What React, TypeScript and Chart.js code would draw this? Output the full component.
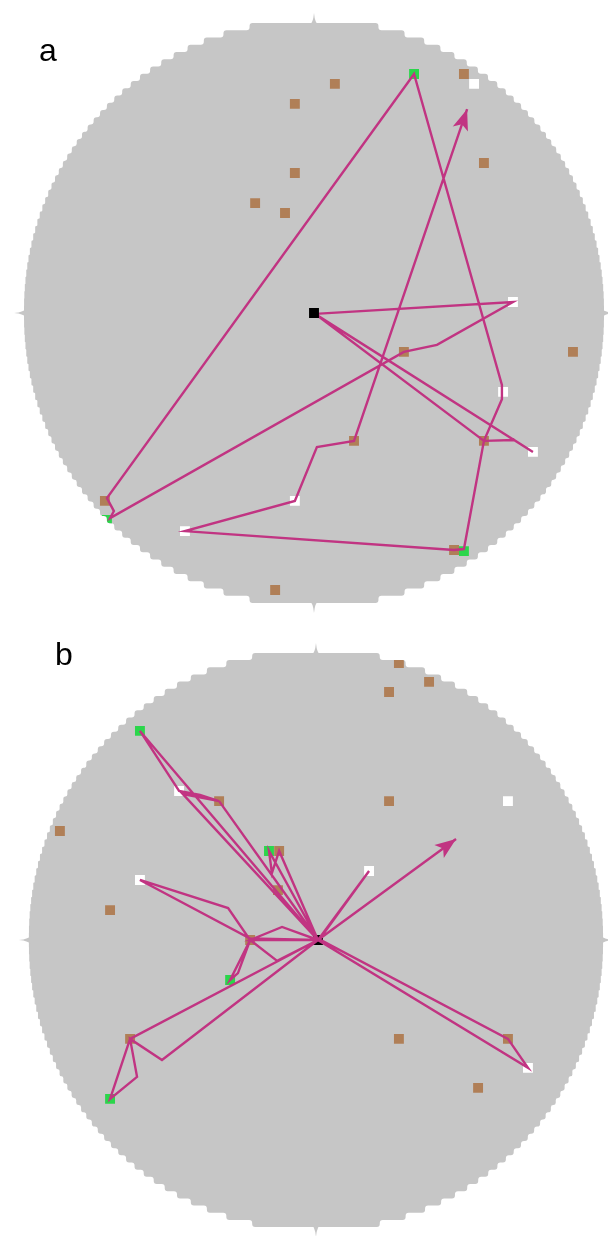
import React, { useEffect, useRef } from "react";
import { Chart, registerables } from "chart.js";

Chart.register(...registerables);

type Pt = [number, number];

// Arena geometry in arena units: [centreX, centreY, radius]
const aArena: number[] = [0, 0, 100];
const bArena: number[] = [-0.7, 0, 99];

// ---------- Panel a ----------
const aBrown: Pt[] = [
  [-6.6, 72.1], [7.2, 79.0], [-6.6, 48.3], [-20.3, 37.9], [-10.0, 34.5],
  [51.7, 82.4], [58.6, 51.7], [31.0, -13.4], [89.3, -13.4], [13.8, -44.1],
  [58.6, -44.1], [48.3, -81.7], [-72.1, -64.8], [-13.4, -95.5],
];
const aWhite: Pt[] = [
  [55.2, 79.0], [68.6, 3.8], [65.2, -27.2], [75.5, -47.9], [-6.6, -64.8], [-44.5, -75.2],
];
const aGreen: Pt[] = [[34.5, 82.4], [51.7, -82.1], [-71.4, -71.4]];
const aStart: Pt[] = [[0, 0]];
const aPath: Pt[] = [
  [0, 0], [58.6, -44.1], [69.0, -43.8], [75.5, -47.9], [0.3, -0.3],
  [68.6, 3.8], [42.4, -11.0], [31.0, -13.4], [-70.3, -70.7], [-69.0, -68.3],
  [-71.4, -63.8], [34.5, 82.4], [64.8, -24.8], [64.8, -29.7], [58.6, -44.1],
  [51.7, -81.4], [48.3, -81.7], [-44.5, -75.2], [-6.6, -64.8], [1.0, -46.2],
  [13.8, -44.1], [52.8, 70.3],
];

// ---------- Panel b ----------
const bBrown: Pt[] = [
  [27.9, 95.5], [38.3, 89.0], [24.5, 85.5], [24.5, 47.9], [-34.1, 47.9],
  [-13.4, 30.7], [-89.0, 37.6], [-71.7, 10.3], [-13.8, 17.2], [-23.4, 0],
  [-64.8, -34.1], [27.9, -34.1], [65.5, -34.1], [55.2, -51.0],
];
const bWhite: Pt[] = [[65.5, 47.9], [-47.9, 51.4], [17.6, 23.8], [-61.4, 20.7], [72.4, -44.1]];
const bGreen: Pt[] = [[-61.4, 72.1], [-16.9, 30.7], [-30.3, -13.8], [-71.7, -54.8]];
const bStart: Pt[] = [[0, 0]];
const bPath: Pt[] = [
  [0, 0], [17.6, 23.8], [0.5, 0.2], [65.5, -34.1], [72.4, -44.1], [0, 0],
  [-61.4, 72.1], [-47.9, 51.4], [-40.7, 50.0], [-34.1, 47.9], [-46.6, 50.3],
  [0.2, -0.2], [-34.1, 47.9], [0, 0], [-16.9, 30.7], [-15.9, 23.1], [-13.4, 30.7],
  [0, 0], [-23.4, 0], [-12.4, 4.5], [0, 0], [-23.4, 0.5], [-61.4, 20.7],
  [-31.0, 11.0], [-23.4, 0], [-30.3, -13.8], [-27.6, -11.4], [-23.4, 0],
  [-14.1, -7.2], [0, 0], [-64.8, -34.1], [-71.7, -54.8], [-62.4, -47.2],
  [-64.8, -34.1], [-53.8, -41.4], [0, 0], [47.6, 34.8],
];

const PANEL_LABELS = ["a", "b"];

const COLORS = {
  arena: "#c6c6c6",
  brown: "#b07f57",
  white: "#ffffff",
  green: "#2bd64b",
  black: "#000000",
  path: "#c13482",
};

// layout (pixels)
const W = 608;
const PANEL_H = 618;
const PX_PER_UNIT = 2.9;

type Panel = {
  brown: Pt[]; white: Pt[]; green: Pt[]; start: Pt[]; path: Pt[]; arena: number[];
  cx: number; cy: number; startOnTop: boolean;
};

const PANEL_A: Panel = { brown: aBrown, white: aWhite, green: aGreen, start: aStart, path: aPath, arena: aArena, cx: 314, cy: 313, startOnTop: true };
const PANEL_B: Panel = { brown: bBrown, white: bWhite, green: bGreen, start: bStart, path: bPath, arena: bArena, cx: 318, cy: 322, startOnTop: false };

function arenaPath(xs: any, ys: any, arena: number[]): Path2D {
  const [ox, oy, R] = arena;
  const N = 40;
  const c = R / N;
  const raw: Pt[] = [];
  const w = (k: number) => Math.sqrt(Math.max(0, R * R - (k * c) * (k * c)));
  for (let k = N - 1; k >= 0; k--) raw.push([w(k), (k + 1) * c], [w(k), k * c]);
  for (let k = 0; k < N; k++) raw.push([w(k), -k * c], [w(k), -(k + 1) * c]);
  for (let k = N - 1; k >= 0; k--) raw.push([-w(k), -(k + 1) * c], [-w(k), -k * c]);
  for (let k = 0; k < N; k++) raw.push([-w(k), k * c], [-w(k), (k + 1) * c]);
  const pts: Pt[] = [];
  raw.forEach(([px, py]) => {
    const X = xs.getPixelForValue(ox + px);
    const Y = ys.getPixelForValue(oy + py);
    const last = pts[pts.length - 1];
    if (!last || Math.hypot(last[0] - X, last[1] - Y) > 0.05) pts.push([X, Y]);
  });
  const n = pts.length;
  const r = 3;
  const p = new Path2D();
  for (let i = 0; i < n; i++) {
    const prev = pts[(i - 1 + n) % n];
    const cur = pts[i];
    const next = pts[(i + 1) % n];
    const l1 = Math.hypot(cur[0] - prev[0], cur[1] - prev[1]);
    const l2 = Math.hypot(next[0] - cur[0], next[1] - cur[1]);
    const d = Math.min(r, l1 / 2, l2 / 2);
    const a: Pt = [cur[0] + ((prev[0] - cur[0]) / l1) * d, cur[1] + ((prev[1] - cur[1]) / l1) * d];
    const b: Pt = [cur[0] + ((next[0] - cur[0]) / l2) * d, cur[1] + ((next[1] - cur[1]) / l2) * d];
    if (i === 0) p.moveTo(a[0], a[1]);
    else p.lineTo(a[0], a[1]);
    p.quadraticCurveTo(cur[0], cur[1], b[0], b[1]);
  }
  p.closePath();
  return p;
}

function spike(ctx: CanvasRenderingContext2D, ax: number, ay: number, dx: number, dy: number) {
  const L = 10, B = 5;
  const nx = -dy, ny = dx;
  ctx.beginPath();
  ctx.moveTo(ax - dx * 3 + nx * B, ay - dy * 3 + ny * B);
  ctx.quadraticCurveTo(ax + nx * 0.8, ay + ny * 0.8, ax + dx * L, ay + dy * L);
  ctx.quadraticCurveTo(ax - nx * 0.8, ay - ny * 0.8, ax - dx * 3 - nx * B, ay - dy * 3 - ny * B);
  ctx.closePath();
  ctx.fill();
}

const arenaPlugin = {
  id: "arena",
  beforeDatasetsDraw(chart: any) {
    const { ctx, scales } = chart;
    const xs = scales.x, ys = scales.y;
    const arena: number[] = chart.options.plugins.arena.geometry;
    const [ox, oy, R] = arena;
    const path = arenaPath(xs, ys, arena);
    ctx.save();
    ctx.fillStyle = COLORS.arena;
    ctx.fill(path);
    const cxp = xs.getPixelForValue(ox), cyp = ys.getPixelForValue(oy);
    const top = ys.getPixelForValue(oy + R), bot = ys.getPixelForValue(oy - R);
    const left = xs.getPixelForValue(ox - R), right = xs.getPixelForValue(ox + R);
    spike(ctx, cxp, top, 0, -1);
    spike(ctx, cxp, bot, 0, 1);
    spike(ctx, left, cyp, -1, 0);
    spike(ctx, right, cyp, 1, 0);
    ctx.restore();
    ctx.save();
    ctx.clip(path);
  },
  afterDatasetsDraw(chart: any) {
    const ctx = chart.ctx as CanvasRenderingContext2D;
    ctx.restore();
    const meta = chart.getDatasetMeta(0);
    const els = meta.data;
    if (els.length < 2) return;
    const a = els[els.length - 2], b = els[els.length - 1];
    const dx = b.x - a.x, dy = b.y - a.y;
    const len = Math.hypot(dx, dy) || 1;
    const ux = dx / len, uy = dy / len;
    const nx = -uy, ny = ux;
    const L = 21, HW = 8, notch = 5;
    ctx.save();
    ctx.fillStyle = COLORS.path;
    ctx.beginPath();
    ctx.moveTo(b.x, b.y);
    ctx.lineTo(b.x - ux * L + nx * HW, b.y - uy * L + ny * HW);
    ctx.lineTo(b.x - ux * (L - notch), b.y - uy * (L - notch));
    ctx.lineTo(b.x - ux * L - nx * HW, b.y - uy * L - ny * HW);
    ctx.closePath();
    ctx.fill();
    ctx.restore();
  },
};

function makeChart(canvas: HTMLCanvasElement, panel: Panel) {
  const s = PX_PER_UNIT;
  const toXY = (p: Pt) => ({ x: p[0], y: p[1] });
  const square = (data: Pt[], color: string, order: number) => ({
    data: data.map(toXY),
    pointStyle: "rect",
    pointRadius: 7,
    pointBackgroundColor: color,
    backgroundColor: color,
    borderWidth: 0,
    pointBorderWidth: 0,
    showLine: false,
    order,
  });
  return new Chart(canvas, {
    type: "scatter",
    data: {
      datasets: [
        {
          data: panel.path.map(toXY),
          showLine: true,
          borderColor: COLORS.path,
          borderWidth: 2.4,
          pointRadius: 0,
          tension: 0,
          fill: false,
          order: 1,
        } as any,
        square(panel.start, COLORS.black, panel.startOnTop ? 0 : 2),
        square(panel.green, COLORS.green, 3),
        square(panel.white, COLORS.white, 4),
        square(panel.brown, COLORS.brown, 5),
      ],
    },
    options: {
      animation: false,
      responsive: true,
      maintainAspectRatio: false,
      events: [],
      layout: { padding: 0, autoPadding: false },
      plugins: {
        legend: { display: false },
        tooltip: { enabled: false },
        arena: { geometry: panel.arena },
      },
      scales: {
        x: { type: "linear", display: false, min: -panel.cx / s, max: (W - panel.cx) / s },
        y: { type: "linear", display: false, min: -(PANEL_H - panel.cy) / s, max: panel.cy / s },
      },
    } as any,
    plugins: [arenaPlugin as any],
  });
}

const labelStyle = (left: number, top: number): React.CSSProperties => ({
  position: "absolute",
  left,
  top,
  fontFamily: '"Liberation Sans", Arial, sans-serif',
  fontSize: 32,
  lineHeight: "32px",
  color: "#000",
});

export default function App() {
  const refA = useRef<HTMLCanvasElement>(null);
  const refB = useRef<HTMLCanvasElement>(null);
  useEffect(() => {
    const ca = makeChart(refA.current!, PANEL_A);
    const cb = makeChart(refB.current!, PANEL_B);
    return () => {
      ca.destroy();
      cb.destroy();
    };
  }, []);
  return (
    <div style={{ position: "absolute", left: 0, top: 0, width: W, height: PANEL_H * 2, background: "#fff", overflow: "hidden" }}>
      <div style={{ position: "absolute", left: 0, top: 0, width: W, height: PANEL_H }}>
        <canvas ref={refA} />
      </div>
      <div style={{ position: "absolute", left: 0, top: PANEL_H, width: W, height: PANEL_H }}>
        <canvas ref={refB} />
      </div>
      <div style={labelStyle(39, 34)}>{PANEL_LABELS[0]}</div>
      <div style={labelStyle(55, 638)}>{PANEL_LABELS[1]}</div>
    </div>
  );
}
